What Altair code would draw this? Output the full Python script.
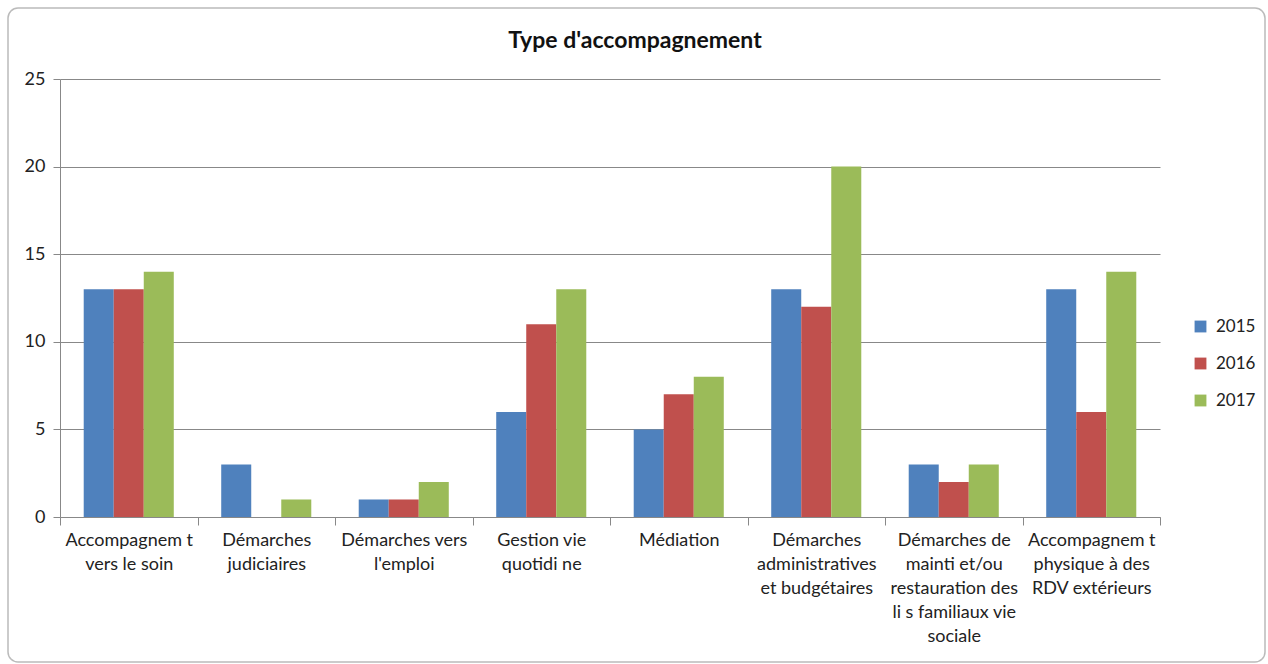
import altair as alt
import pandas as pd

categories = [
    "Accompagnem t|vers le soin",
    "Démarches|judiciaires",
    "Démarches vers|l'emploi",
    "Gestion vie|quotidi ne",
    "Médiation",
    "Démarches|administratives|et budgétaires",
    "Démarches de|mainti  et/ou|restauration des|li s familiaux vie|sociale",
    "Accompagnem t|physique à des|RDV extérieurs",
]
years = ["2015", "2016", "2017"]
v2015 = [13, 3, 1, 6, 5, 13, 3, 13]
v2016 = [13, 0, 1, 11, 7, 12, 2, 6]
v2017 = [14, 1, 2, 13, 8, 20, 3, 14]
colors = ["#4F81BD", "#C0504D", "#9BBB59"]

rows = []
for y, vals in zip(years, [v2015, v2016, v2017]):
    for c, v in zip(categories, vals):
        rows.append({"cat": c, "year": y, "value": v})
df = pd.DataFrame(rows)

font = "Lato"
fs = 18

bars = alt.Chart(df).mark_bar().encode(
    x=alt.X("cat:N", sort=categories,
            scale=alt.Scale(paddingInner=0, paddingOuter=0),
            axis=alt.Axis(title=None, labelAngle=0, tickBand="extent",
                          labelExpr="isValid(datum.value) ? split(datum.value, '|') : ''",
                          labelLineHeight=24, labelPadding=6, tickSize=8,
                          labelFontSize=fs, labelColor="#222222", labelFont=font,
                          domainColor="#888888", tickColor="#888888",
                          labelBaseline="top", grid=False)),
    xOffset=alt.XOffset("year:N", sort=years,
                        scale=alt.Scale(paddingInner=0, paddingOuter=0.79)),
    y=alt.Y("value:Q", scale=alt.Scale(domain=[0, 25]),
            axis=alt.Axis(title=None, values=[0, 5, 10, 15, 20, 25],
                          tickSize=7, labelPadding=8, labelFontSize=fs,
                          labelColor="#222222", labelFont=font,
                          domainColor="#888888", tickColor="#888888",
                          gridColor="#888888", gridOpacity=1)),
    color=alt.Color("year:N", sort=years,
                    scale=alt.Scale(domain=years, range=colors),
                    legend=alt.Legend(title=None, orient="none", legendX=1132, legendY=239,
                                      symbolType="square", symbolSize=140,
                                      symbolStrokeWidth=0, symbolOpacity=1,
                                      rowPadding=19, labelFontSize=17,
                                      labelFont=font, labelColor="#222222",
                                      labelOffset=7)),
)

# chart-area frame (decoration only)
frame = alt.Chart(pd.DataFrame({"f": [0]})).mark_rect(
    fill=None, stroke="#BBBBBB", strokeWidth=1.5, cornerRadius=10
).encode(x=alt.value(-52), x2=alt.value(1205), y=alt.value(-71), y2=alt.value(583))

chart = alt.layer(frame, bars).properties(
    width=1100, height=438,
    padding={"left": 60, "top": 79, "right": 108, "bottom": 147},
    autosize=alt.AutoSizeParams(type="none"),
    background="white",
    title=alt.TitleParams("Type d'accompagnement", fontSize=23, font=font,
                          fontWeight="bold", color="#111111", offset=-46,
                          frame="group", dx=25),
).configure_view(stroke=None)

chart.save("out.html", embed_options={"renderer": "svg", "actions": False})
